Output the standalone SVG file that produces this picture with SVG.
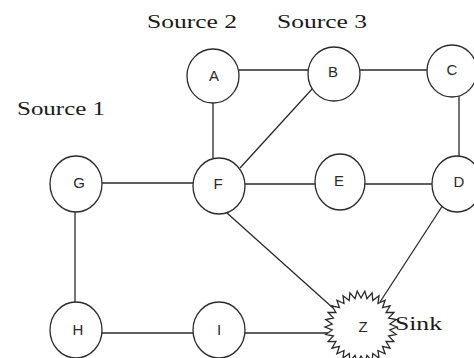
<svg xmlns="http://www.w3.org/2000/svg" width="474" height="358" viewBox="0 0 474 358">
  <style>
    .node { fill: #ffffff; stroke: #2a2a2a; stroke-width: 1.3; }
    .edge { stroke: #2a2a2a; stroke-width: 1.3; fill: none; }
    .lbl { font-family: "Liberation Sans", "DejaVu Sans", sans-serif; font-size: 15px; fill: #2a2a2a; text-anchor: middle; }
    .cap { font-family: "Liberation Serif", "Times New Roman", serif; font-size: 19px; fill: #1a1a1a; }
  </style>
  <rect width="474" height="358" fill="#ffffff"/>

  <!-- connectors -->
  <g id="edges">
    <line class="edge" x1="239" y1="70" x2="308" y2="70"/>
    <line class="edge" x1="360" y1="70" x2="428" y2="70"/>
    <line class="edge" x1="213" y1="103" x2="213" y2="158"/>
    <line class="edge" x1="313" y1="88" x2="240" y2="168"/>
    <line class="edge" x1="459" y1="96" x2="459" y2="157"/>
    <line class="edge" x1="102" y1="183" x2="193" y2="183"/>
    <line class="edge" x1="245" y1="184" x2="315" y2="184"/>
    <line class="edge" x1="365" y1="184" x2="433" y2="184"/>
    <line class="edge" x1="75" y1="212" x2="75" y2="303"/>
    <line class="edge" x1="102" y1="333" x2="193" y2="333"/>
    <line class="edge" x1="245" y1="333" x2="328" y2="333"/>
    <line class="edge" x1="227" y1="213" x2="333" y2="308"/>
    <line class="edge" x1="443" y1="205" x2="380" y2="302"/>
  </g>

  <!-- nodes -->
  <g id="node-A">
    <ellipse class="node" cx="213" cy="76" rx="26" ry="27"/>
    <text class="lbl" x="214" y="81">A</text>
  </g>
  <g id="node-B">
    <ellipse class="node" cx="334" cy="74" rx="26" ry="27"/>
    <text class="lbl" x="333" y="77">B</text>
  </g>
  <g id="node-C">
    <ellipse class="node" cx="452" cy="71" rx="25" ry="26"/>
    <text class="lbl" x="452" y="75">C</text>
  </g>
  <g id="node-G">
    <ellipse class="node" cx="76" cy="184" rx="26" ry="28"/>
    <text class="lbl" x="79" y="188">G</text>
  </g>
  <g id="node-F">
    <ellipse class="node" cx="219" cy="186" rx="26" ry="28"/>
    <text class="lbl" x="218" y="189">F</text>
  </g>
  <g id="node-E">
    <ellipse class="node" cx="340" cy="182" rx="25" ry="28"/>
    <text class="lbl" x="339" y="186">E</text>
  </g>
  <g id="node-D">
    <ellipse class="node" cx="457" cy="184" rx="25" ry="28"/>
    <text class="lbl" x="459" y="187">D</text>
  </g>
  <g id="node-H">
    <ellipse class="node" cx="76" cy="330" rx="26" ry="28"/>
    <text class="lbl" x="78" y="335">H</text>
  </g>
  <g id="node-I">
    <ellipse class="node" cx="219" cy="330" rx="26" ry="28"/>
    <text class="lbl" x="219" y="335">I</text>
  </g>
  <g id="node-Z">
    <!-- 30-point starburst: outer radius 36, inner radius 29 -->
    <polygon class="node" transform="translate(361,327)" points="36,0 28.8,3 35.2,7.5 27.6,9 32.9,14.6 25.1,14.5 29.1,21.2 21.6,19.4 24.1,26.8 17,23.5 18,31.2 11.8,26.5 11.1,34.2 6,28.4 3.8,35.8 0,29 -3.8,35.8 -6,28.4 -11.1,34.2 -11.8,26.5 -18,31.2 -17,23.5 -24.1,26.8 -21.6,19.4 -29.1,21.2 -25.1,14.5 -32.9,14.6 -27.6,9 -35.2,7.5 -28.8,3 -36,0 -28.8,-3 -35.2,-7.5 -27.6,-9 -32.9,-14.6 -25.1,-14.5 -29.1,-21.2 -21.6,-19.4 -24.1,-26.8 -17,-23.5 -18,-31.2 -11.8,-26.5 -11.1,-34.2 -6,-28.4 -3.8,-35.8 0,-29 3.8,-35.8 6,-28.4 11.1,-34.2 11.8,-26.5 18,-31.2 17,-23.5 24.1,-26.8 21.6,-19.4 29.1,-21.2 25.1,-14.5 32.9,-14.6 27.6,-9 35.2,-7.5 28.8,-3"/>
    <text class="lbl" x="363" y="332">Z</text>
  </g>

  <!-- captions -->
  <g id="captions">
    <text class="cap" x="147" y="28" textLength="90" lengthAdjust="spacingAndGlyphs">Source 2</text>
    <text class="cap" x="277" y="28" textLength="90" lengthAdjust="spacingAndGlyphs">Source 3</text>
    <text class="cap" x="17" y="115" textLength="88" lengthAdjust="spacingAndGlyphs">Source 1</text>
    <text class="cap" x="395" y="330" textLength="47" lengthAdjust="spacingAndGlyphs">Sink</text>
  </g>
</svg>
